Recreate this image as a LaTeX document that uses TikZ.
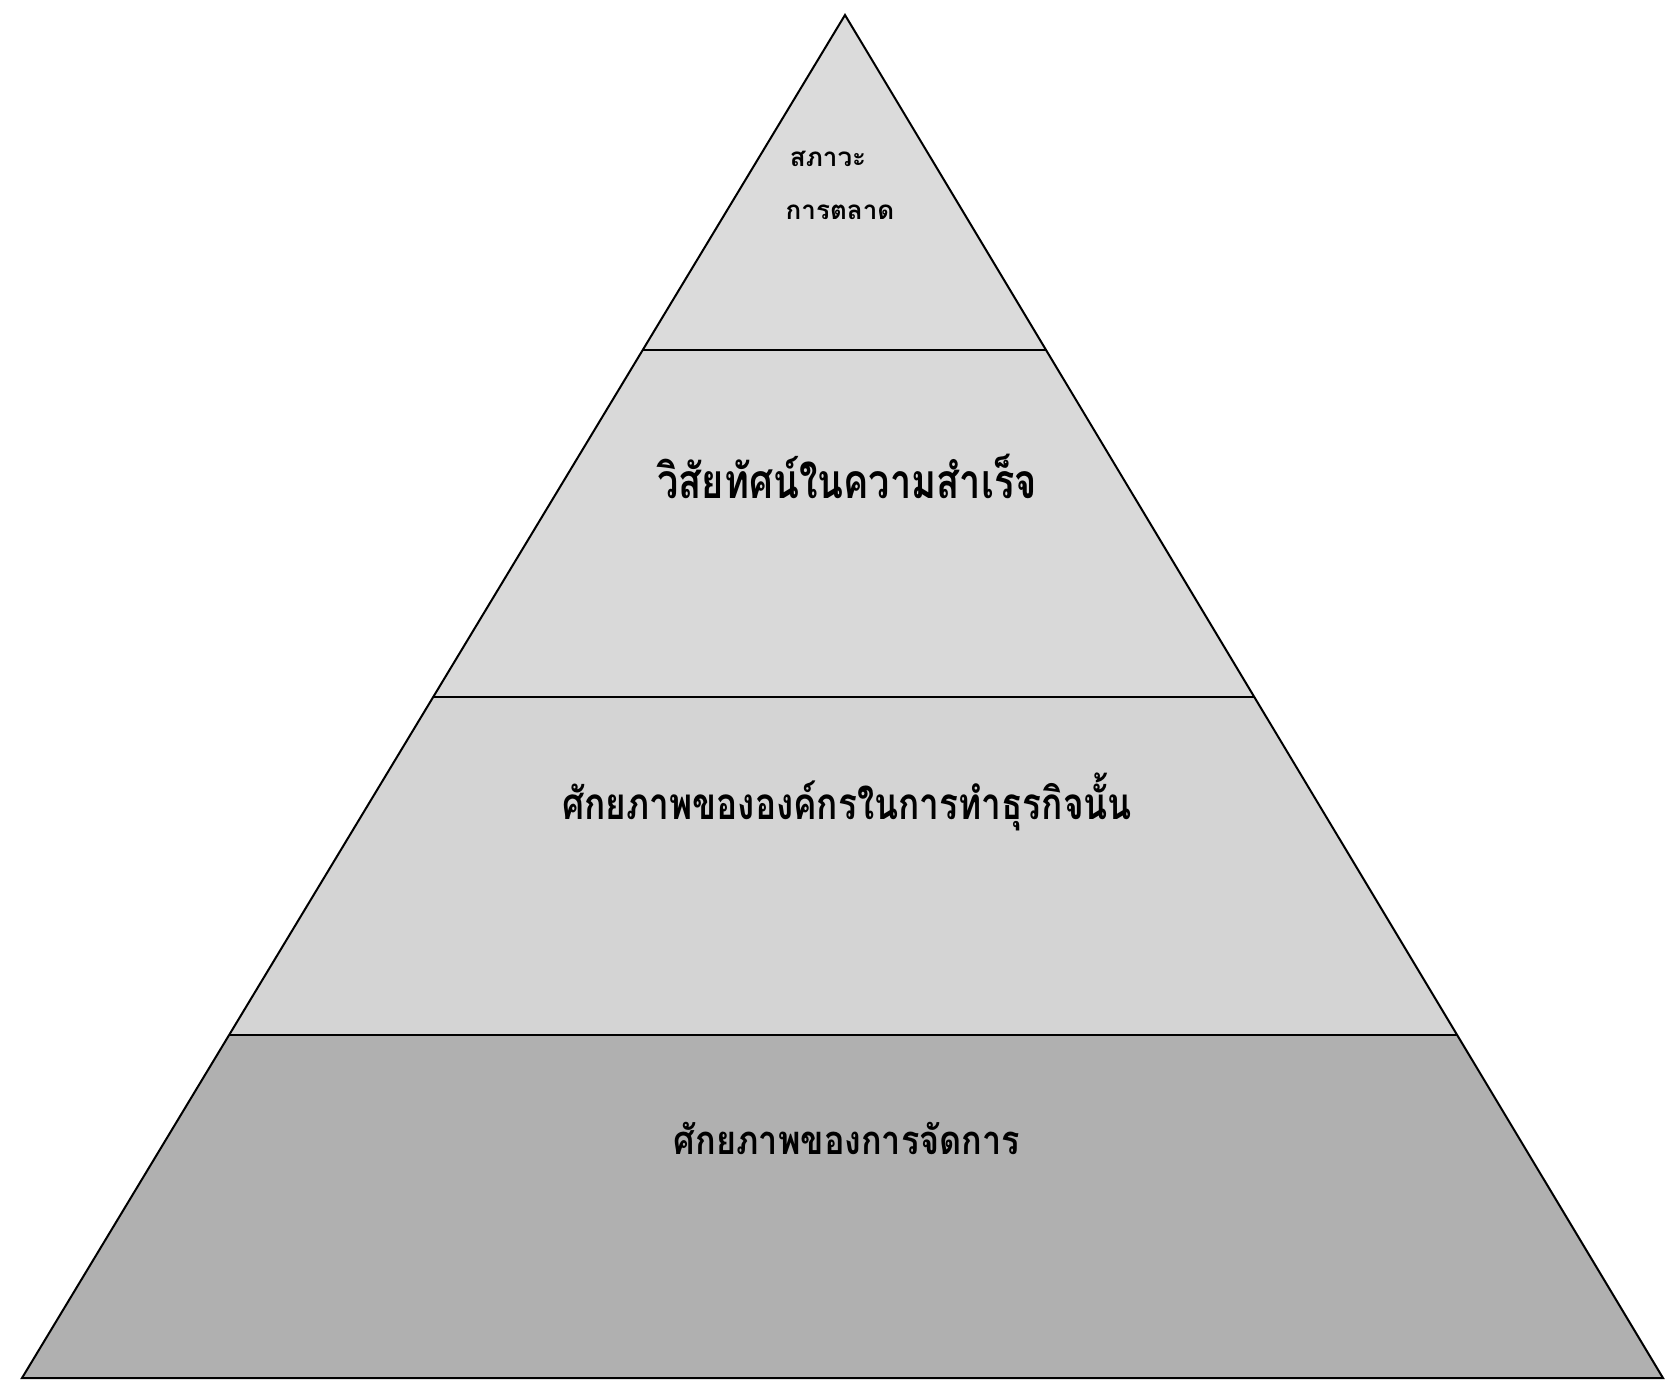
\documentclass[tikz,border=0pt]{standalone}
\usepackage{fontspec}
\newfontfamily\thaifont[Script=Thai]{Loma}
\usetikzlibrary{calc}
\begin{document}
\begin{tikzpicture}[x=1pt,y=-1pt,
  layer/.style={draw=black,line width=2pt,line join=miter},
  lbl/.style={font=\thaifont\bfseries,inner sep=0pt,text=black}]
\useasboundingbox[fill=white] (0,0) rectangle (1665,1380);
\coordinate (A) at (845,15);
\coordinate (BL) at (22,1378);
\coordinate (BR) at (1663,1378);
\coordinate (L1) at ($(A)!0.2458!(BL)$);
\coordinate (R1) at ($(A)!0.2458!(BR)$);
\coordinate (L2) at ($(A)!0.5004!(BL)$);
\coordinate (R2) at ($(A)!0.5004!(BR)$);
\coordinate (L3) at ($(A)!0.7484!(BL)$);
\coordinate (R3) at ($(A)!0.7484!(BR)$);
\fill[gray!28] (A) -- (L1) -- (R1) -- cycle;
\fill[gray!30] (L1) -- (L2) -- (R2) -- (R1) -- cycle;
\fill[gray!34] (L2) -- (L3) -- (R3) -- (R2) -- cycle;
\fill[gray!62] (L3) -- (BL) -- (BR) -- (R3) -- cycle;
\draw[layer] (A) -- (BL) -- (BR) -- cycle;
\draw[line width=2pt] (L1) -- (R1);
\draw[line width=2pt] (L2) -- (R2);
\draw[line width=2pt] (L3) -- (R3);
\node[lbl,font=\thaifont\bfseries\fontsize{26}{30}\selectfont] (t1a) at (828,159) {สภาวะ};
\node[lbl,font=\thaifont\bfseries\fontsize{26}{30}\selectfont] (t1b) at (840,212) {การตลาด};
\node[lbl,font=\thaifont\bfseries\fontsize{48}{56}\selectfont,xscale=0.79] (t2) at (847,476) {วิสัยทัศน์ในความสำเร็จ};
\node[lbl,font=\thaifont\bfseries\fontsize{44}{52}\selectfont,xscale=0.8] (t3) at (847,802) {ศักยภาพขององค์กรในการทำธุรกิจนั้น};
\node[lbl,font=\thaifont\bfseries\fontsize{40}{48}\selectfont,xscale=0.855] (t4) at (847,1138) {ศักยภาพของการจัดการ};
\end{tikzpicture}
\end{document}
